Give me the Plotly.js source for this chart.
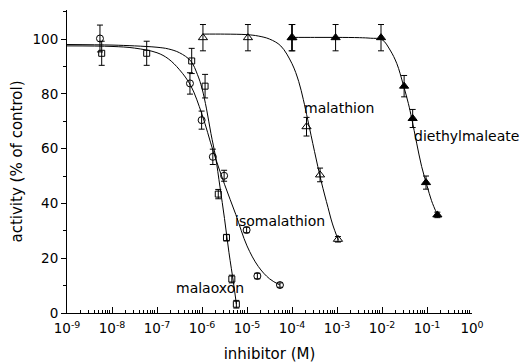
<!DOCTYPE html>
<html>
<head>
<meta charset="utf-8">
<script src="https://cdn.plot.ly/plotly-3.0.1.min.js"></script>
<style>html,body{margin:0;padding:0;background:#fff;}#chart{width:521px;height:363px;}</style>
</head>
<body>
<div id="chart"></div>
<script>
// ---- measured points (inhibitor concentration in M, activity in % of control) ----
const malaoxonX   = [5.9e-9, 5.9e-8, 5.9e-7, 1.17e-6, 2.3e-6, 3.5e-6, 4.6e-6, 5.8e-6];
const malaoxonY   = [94.8, 94.8, 92.0, 82.8, 43.4, 27.5, 12.4, 3.2];
const malaoxonErr = [4.4, 4.4, 4.6, 4.3, 1.7, 1.2, 1.4, 1.4];

const isomalathionX   = [5.4e-9, 5.4e-7, 9.8e-7, 1.74e-6, 3.1e-6, 9.8e-6, 1.7e-5, 5.4e-5];
const isomalathionY   = [100.2, 83.8, 70.4, 57.0, 50.1, 30.3, 13.5, 10.2];
const isomalathionErr = [4.9, 3.9, 3.3, 2.8, 2.0, 1.0, 1.0, 0.8];

const malathionX   = [1.05e-6, 1.05e-5, 1.02e-4, 2.1e-4, 4.2e-4, 1.05e-3];
const malathionY   = [100.5, 100.5, 100.5, 68.0, 50.4, 26.9];
const malathionErr = [4.8, 4.8, 4.8, 3.4, 2.5, 1.0];

const diethylX   = [9.8e-5, 9.3e-4, 9.5e-3, 3.1e-2, 4.8e-2, 9.5e-2, 0.17];
const diethylY   = [100.5, 100.5, 100.5, 82.8, 71.0, 47.6, 35.8];
const diethylErr = [4.8, 4.8, 4.8, 3.9, 3.3, 2.4, 1.0];

// ---- fitted curves ----
const malaoxonFitX = [1e-9, 1e-8, 3.16e-8, 1e-7, 1.78e-7, 3.16e-7, 5.62e-7, 7.94e-7, 1e-6, 1.26e-6, 1.58e-6, 2.0e-6, 2.51e-6, 3.16e-6, 3.98e-6, 5.01e-6, 5.8e-6];
const malaoxonFitY = [98.0, 97.8, 97.5, 97.0, 96.4, 95.0, 92.0, 87.0, 82.0, 74.5, 65.5, 57.0, 46.0, 34.5, 22.0, 11.0, 3.3];

const isomalathionFitX = [1e-9, 1e-8, 3.16e-8, 1e-7, 1.78e-7, 3.16e-7, 5.62e-7, 1e-6, 1.78e-6, 3.16e-6, 5.62e-6, 1e-5, 1.78e-5, 3.16e-5, 5.4e-5];
const isomalathionFitY = [97.5, 97.3, 96.7, 95.0, 92.8, 88.8, 83.0, 72.5, 59.0, 47.0, 36.0, 24.5, 17.0, 12.5, 10.2];

const malathionFitX = [1.05e-6, 3.16e-6, 1e-5, 1.78e-5, 3.16e-5, 5.62e-5, 1e-4, 1.41e-4, 1.78e-4, 2.24e-4, 3.16e-4, 4.47e-4, 6.31e-4, 7.94e-4, 1.07e-3];
const malathionFitY = [101.8, 101.8, 101.6, 101.1, 100.0, 97.5, 91.0, 84.5, 78.0, 70.5, 59.0, 48.0, 38.5, 32.5, 26.6];

const diethylFitX = [9.8e-5, 3.16e-4, 1e-3, 3.16e-3, 5.62e-3, 1e-2, 1.51e-2, 2.14e-2, 2.95e-2, 3.85e-2, 4.57e-2, 5.89e-2, 7.59e-2, 0.1, 0.126, 0.17];
const diethylFitY = [100.6, 100.6, 100.6, 100.5, 100.3, 99.8, 96.0, 91.0, 83.5, 76.5, 71.0, 62.0, 53.5, 46.5, 41.0, 35.8];

// ---- axis ticks and labels ----
const xTickVals = [1e-9, 1e-8, 1e-7, 1e-6, 1e-5, 1e-4, 1e-3, 1e-2, 1e-1, 1];
const xTickText = ['10<sup>-9</sup>', '10<sup>-8</sup>', '10<sup>-7</sup>', '10<sup>-6</sup>', '10<sup>-5</sup>',
                   '10<sup>-4</sup>', '10<sup>-3</sup>', '10<sup>-2</sup>', '10<sup>-1</sup>', '10<sup>0</sup>'];
const labelTexts = ['malaoxon', 'isomalathion', 'malathion', 'diethylmaleate'];

const xMinor = [];
for (let d = -9; d < 0; d++) for (let k = 2; k <= 9; k++) xMinor.push(k * Math.pow(10, d));

const FONT = 'DejaVu Sans, Arial, sans-serif';
const errStyle = arr => ({type: 'data', array: arr, visible: true, color: '#000', thickness: 1, width: 3});
const fitTrace = (x, y) => ({x, y, mode: 'lines', type: 'scatter', line: {color: '#000', width: 1, shape: 'spline', smoothing: 1}, hoverinfo: 'skip', showlegend: false});
const ptTrace = (x, y, e, sym, size) => ({x, y, mode: 'markers', type: 'scatter', error_y: errStyle(e),
  marker: {symbol: sym, size: size, color: '#000', line: {color: '#000', width: 1}}, showlegend: false});

const data = [
  fitTrace(malaoxonFitX, malaoxonFitY),
  fitTrace(isomalathionFitX, isomalathionFitY),
  fitTrace(malathionFitX, malathionFitY),
  fitTrace(diethylFitX, diethylFitY),
  ptTrace(malaoxonX, malaoxonY, malaoxonErr, 'square-open', 6),
  ptTrace(isomalathionX, isomalathionY, isomalathionErr, 'circle-open', 7),
  ptTrace(malathionX, malathionY, malathionErr, 'triangle-up-open', 8),
  ptTrace(diethylX, diethylY, diethylErr, 'triangle-up', 8)
];

const labelPos = [[0.352, 0.083], [0.527, 0.304], [0.672, 0.678], [0.987, 0.584]];
const annotations = labelTexts.map((t, i) => ({
  text: t, xref: 'paper', yref: 'paper', x: labelPos[i][0], y: labelPos[i][1],
  xanchor: 'center', yanchor: 'middle', showarrow: false, font: {family: FONT, size: 14, color: '#000'}
}));

const layout = {
  width: 521, height: 363,
  margin: {l: 67, r: 49, t: 10, b: 50},
  paper_bgcolor: '#fff', plot_bgcolor: '#fff',
  showlegend: false,
  font: {family: FONT, color: '#000'},
  xaxis: {
    type: 'log', range: [-9, 0], showgrid: false, zeroline: false,
    showline: true, linecolor: '#000', linewidth: 1, mirror: false,
    ticks: 'inside', ticklen: 6, tickwidth: 1, tickcolor: '#000',
    tickvals: xTickVals, ticktext: xTickText, ticklabelstandoff: 3,
    tickfont: {family: FONT, size: 13.5, color: '#000'},
    minor: {tickvals: xMinor, ticks: 'inside', ticklen: 3, tickwidth: 1, tickcolor: '#000', showgrid: false},
    title: {text: 'inhibitor (M)', font: {family: FONT, size: 15, color: '#000'}, standoff: 13}
  },
  yaxis: {
    range: [0, 110.6], showgrid: false, zeroline: false,
    showline: true, linecolor: '#000', linewidth: 1, mirror: false,
    ticks: 'outside', ticklen: 5, tickwidth: 1, tickcolor: '#000', dtick: 20, tick0: 0,
    tickfont: {family: FONT, size: 13.5, color: '#000'},
    minor: {dtick: 10, ticks: 'outside', ticklen: 3, tickwidth: 1, tickcolor: '#000', showgrid: false},
    title: {text: 'activity (% of control)', font: {family: FONT, size: 15, color: '#000'}, standoff: 6}
  },
  annotations: annotations
};

Plotly.newPlot('chart', data, layout, {displayModeBar: false, staticPlot: true});
</script>
</body>
</html>
